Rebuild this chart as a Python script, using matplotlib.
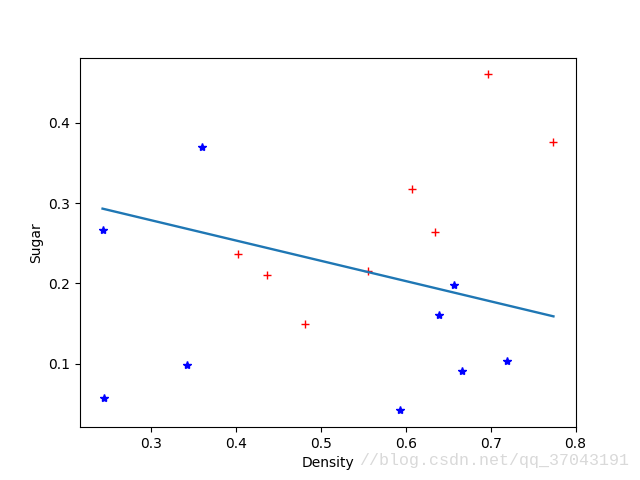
import matplotlib
matplotlib.use("Agg")
import matplotlib.pyplot as plt

# watermelon data: density / sugar
good_density = [0.697, 0.774, 0.634, 0.608, 0.556, 0.403, 0.481, 0.437]
good_sugar = [0.460, 0.376, 0.264, 0.318, 0.215, 0.237, 0.149, 0.211]
bad_density = [0.666, 0.243, 0.245, 0.343, 0.639, 0.657, 0.360, 0.593, 0.719]
bad_sugar = [0.091, 0.267, 0.057, 0.099, 0.161, 0.198, 0.370, 0.042, 0.103]

# fitted line
line_x = [0.243, 0.774]
line_y = [0.293, 0.159]

fig, ax = plt.subplots(figsize=(6.4, 4.8), dpi=100)
ax.plot(good_density, good_sugar, "r+")
ax.plot(bad_density, bad_sugar, "b*")
ax.plot(line_x, line_y, linewidth=1.7)

ax.set_xlabel("Density")
ax.set_ylabel("Sugar")

# watermark
fig.text(0.983, 0.04, "//blog.csdn.net/qq_37043191", ha="right", va="center",
         fontsize=12, color="#d9d9d9", family="Liberation Mono")

plt.savefig("out.png", dpi=100)
